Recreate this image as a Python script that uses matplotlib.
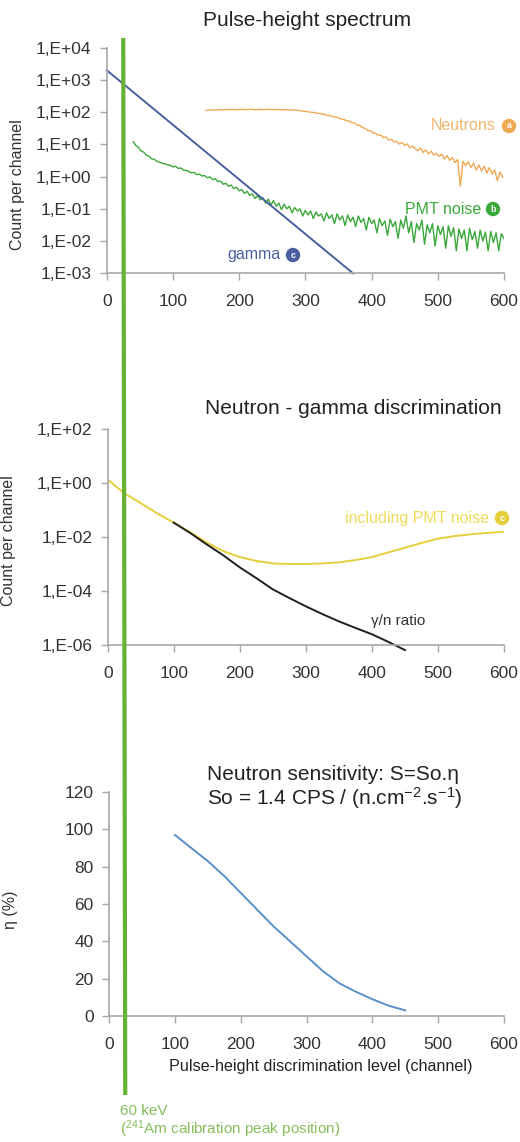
import numpy as np
import matplotlib
matplotlib.use("Agg")
import matplotlib.pyplot as plt
from matplotlib.lines import Line2D
from matplotlib.transforms import blended_transform_factory
from matplotlib.ticker import FixedLocator, FixedFormatter

plt.rcParams['font.family'] = ['Liberation Sans', 'DejaVu Sans']
plt.rcParams['mathtext.fontset'] = 'custom'
plt.rcParams['mathtext.rm'] = 'Liberation Sans'
plt.rcParams['mathtext.it'] = 'Liberation Sans'
plt.rcParams['mathtext.bf'] = 'Liberation Sans:bold'

# ---------------- data ----------------
# Panel 1: pulse-height spectrum
gamma_ch = [0, 372]
gamma_val = [2000, 1e-3]

neutron_ch_start, neutron_ch_stop = 150, 598   # every 4 channels
neutron_val = [113, 117, 115, 119, 116, 120, 118, 117, 121, 119,
               122, 118, 121, 120, 123, 119, 121, 124, 120, 118,
               122, 121, 119, 123, 120, 121, 118, 121, 119, 117,
               120, 116, 118, 114, 116, 112,
               110, 107, 105, 101, 99, 97, 92, 91, 86, 84,
               79, 78, 72, 71, 66, 61, 60, 54, 53, 47,
               46, 40, 39, 33, 32, 27, 27, 23, 22, 19,
               19.5, 16, 17, 13.5, 14.5, 12, 12.5, 10.2, 11.5, 9.2,
               10.3, 7.8, 9.0, 7.3, 6.4, 7.8, 5.6, 6.8, 5.0, 6.2,
               4.6, 5.3, 4.2, 5.0, 3.5, 4.5, 3.2, 3.9, 2.7, 3.4,
               0.5, 3.0, 2.2, 2.9, 1.9, 2.6, 1.6, 2.3, 1.5, 2.1,
               1.3, 1.9, 1.2, 1.6, 0.75, 1.4, 0.95]

pmt_ch_start, pmt_ch_stop = 40, 600   # every 4 channels
pmt_val = [12, 9.3, 8.1, 6.3, 5.7, 4.6, 4.3, 3.6, 3.4, 3.0,
           2.8, 2.6, 2.5, 2.3, 2.25, 2.0, 2.1, 1.8, 1.85, 1.6,
           1.55, 1.45, 1.3, 1.35, 1.15, 1.2, 1.05, 1.08, 0.92, 0.98,
           0.8, 0.86, 0.7, 0.72, 0.58, 0.62, 0.5, 0.55, 0.43, 0.47,
           0.36, 0.4, 0.3, 0.35, 0.26, 0.29, 0.21, 0.26, 0.19, 0.22,
           0.15, 0.2, 0.13, 0.18, 0.12, 0.15, 0.095, 0.14, 0.1, 0.12,
           0.075, 0.11, 0.085, 0.1, 0.06, 0.09, 0.065, 0.085, 0.05, 0.08,
           0.06, 0.07, 0.042, 0.075, 0.05, 0.065, 0.035, 0.07, 0.045, 0.06,
           0.03, 0.065, 0.04, 0.055, 0.028, 0.06, 0.038, 0.05, 0.022, 0.055,
           0.035, 0.045, 0.018, 0.05, 0.03, 0.042, 0.015, 0.048, 0.028, 0.04,
           0.012, 0.045, 0.025, 0.06, 0.018, 0.04, 0.009, 0.035, 0.022, 0.045,
           0.008, 0.032, 0.018, 0.035, 0.007, 0.03, 0.016, 0.028, 0.006, 0.03,
           0.014, 0.026, 0.005, 0.024, 0.012, 0.022, 0.005, 0.025, 0.011, 0.02,
           0.006, 0.022, 0.01, 0.019, 0.005, 0.02, 0.009, 0.018, 0.005, 0.017,
           0.012]

# Panel 2: neutron-gamma discrimination
incl_ch = [0, 25, 50, 75, 100, 125, 150, 175, 200, 225, 250, 275, 300,
           325, 350, 375, 400, 425, 450, 475, 500, 525, 550, 575, 600]
incl_val = [1.33, 0.42, 0.18, 0.075, 0.034, 0.015, 0.0062, 0.003, 0.0018,
            0.0013, 0.00105, 0.001, 0.001, 0.00105, 0.00115, 0.0014, 0.0018,
            0.0027, 0.004, 0.006, 0.0087, 0.0108, 0.0126, 0.0142, 0.0155]
ratio_ch = [100, 125, 150, 175, 200, 225, 250, 275, 300, 325, 350, 375, 400, 425, 450]
ratio_val = [0.034, 0.014, 0.0053, 0.0021, 7.5e-4, 3.0e-4, 1.15e-4, 5.5e-5,
             2.7e-5, 1.4e-5, 7.5e-6, 4.3e-6, 2.5e-6, 1.3e-6, 6.5e-7]

# Panel 3: neutron sensitivity
sens_ch = [100, 125, 150, 175, 200, 225, 250, 275, 300, 325, 350, 375, 400, 425, 450]
sens_val = [97, 90, 83, 75, 66, 57, 48, 40, 32, 24, 17.5, 13, 9, 5.5, 3]

calib_channel = 25

x_ticks = [0, 100, 200, 300, 400, 500, 600]
y1_ticks = [1e-3, 1e-2, 1e-1, 1, 10, 100, 1e3, 1e4]
y1_labels = ['1,E-03', '1,E-02', '1,E-01', '1,E+00', '1,E+01', '1,E+02', '1,E+03', '1,E+04']
y2_ticks = [1e-6, 1e-4, 1e-2, 1, 100]
y2_labels = ['1,E-06', '1,E-04', '1,E-02', '1,E+00', '1,E+02']
y3_ticks = [0, 20, 40, 60, 80, 100, 120]

# ---------------- colours ----------------
C_GAMMA = '#4a5f9e'
C_NEUT = '#f0a955'
C_NEUT_T = '#f2b46c'
C_PMT = '#3aa83a'
C_YEL = '#e6cf3a'
C_YEL_T = '#efdc5a'
C_BLK = '#1f1f1f'
C_SENS = '#5a8fc8'
C_CAL = '#66b232'
C_CAL_T = '#86bf5a'
C_SPINE = '#a8a8a8'
C_TXT = '#333333'

fig = plt.figure(figsize=(5.20, 11.42), dpi=100)
W, H = 520, 1142

def add_ax(left, top, right, bottom):
    return fig.add_axes([left / W, 1 - bottom / H, (right - left) / W, (bottom - top) / H])

ax1 = add_ax(106.7, 47.7, 504, 273.3)
ax2 = add_ax(107.7, 429, 504, 645)
ax3 = add_ax(109, 792, 504, 1016)

def style(ax):
    for s in ['top', 'right']:
        ax.spines[s].set_visible(False)
    for s in ['left', 'bottom']:
        ax.spines[s].set_color(C_SPINE)
        ax.spines[s].set_linewidth(1.2)
    ax.tick_params(axis='both', colors=C_SPINE, labelcolor=C_TXT, labelsize=12.5,
                   length=5, width=1)
    ax.tick_params(axis='y', pad=6)
    ax.tick_params(axis='x', pad=10)
    ax.set_xlim(0, 600)
    ax.xaxis.set_major_locator(FixedLocator(x_ticks))
    ax.minorticks_off()
    ax.patch.set_alpha(0)

def ftext(x, y, s, **kw):
    return fig.text(x / W, 1 - y / H, s, **kw)

def circ_label(x, y, letter, color):
    ftext(x, y, letter, ha='center', va='center', fontsize=6.5,
          color='white', fontweight='bold',
          bbox=dict(boxstyle='circle,pad=0.3', fc=color, ec='none'))

# ---- panel 1 ----
nch = np.linspace(neutron_ch_start, neutron_ch_stop, len(neutron_val))
pch = np.linspace(pmt_ch_start, pmt_ch_stop, len(pmt_val))
ax1.set_yscale('log')
ax1.plot(nch, neutron_val, color=C_NEUT, lw=1.0)
ax1.plot(pch, pmt_val, color=C_PMT, lw=1.0)
ax1.plot(gamma_ch, gamma_val, color=C_GAMMA, lw=1.4, clip_on=False)
ax1.set_ylim(1e-3, 1e4)
style(ax1)
ax1.yaxis.set_major_locator(FixedLocator(y1_ticks))
ax1.yaxis.set_major_formatter(FixedFormatter(y1_labels))
ax1.yaxis.set_minor_locator(FixedLocator([]))
ftext(18, 185, 'Count per channel', rotation=90, ha='center', va='center',
      fontsize=11.5, color=C_TXT)
ftext(307, 20, 'Pulse-height spectrum', ha='center', va='center',
      fontsize=15, color='#222222')

ftext(496, 126, 'Neutrons', ha='right', va='center', fontsize=11.5, color=C_NEUT_T)
circ_label(509, 126, 'a', C_NEUT)
ftext(481, 209, 'PMT noise', ha='right', va='center', fontsize=11.5, color=C_PMT)
circ_label(493, 209, 'b', C_PMT)
ftext(280, 255, 'gamma', ha='right', va='center', fontsize=11.5, color=C_GAMMA)
circ_label(293, 255, 'c', C_GAMMA)

# ---- panel 2 ----
ax2.set_yscale('log')
ax2.plot(incl_ch, incl_val, color=C_YEL, lw=1.4)
ax2.plot(ratio_ch, ratio_val, color=C_BLK, lw=1.4, clip_on=False)
ax2.set_ylim(1e-6, 1e2)
style(ax2)
ax2.yaxis.set_major_locator(FixedLocator(y2_ticks))
ax2.yaxis.set_major_formatter(FixedFormatter(y2_labels))
ax2.yaxis.set_minor_locator(FixedLocator([]))
ftext(9, 541, 'Count per channel', rotation=90, ha='center', va='center',
      fontsize=11.5, color=C_TXT)
ftext(353, 409, 'Neutron - gamma discrimination', ha='center', va='center',
      fontsize=15, color='#222222')
ftext(489, 518, 'including PMT noise', ha='right', va='center',
      fontsize=11.5, color=C_YEL_T)
circ_label(502, 518, 'c', C_YEL)
ftext(398, 621, 'γ/n ratio', ha='center', va='center', fontsize=11, color=C_TXT)

# ---- panel 3 ----
ax3.plot(sens_ch, sens_val, color=C_SENS, lw=1.4)
ax3.set_ylim(0, 120)
style(ax3)
ax3.yaxis.set_major_locator(FixedLocator(y3_ticks))
ftext(10, 910, 'η (%)', rotation=90, ha='center', va='center', fontsize=11.5, color=C_TXT)
ftext(321, 1066, 'Pulse-height discrimination level (channel)', ha='center', va='center',
      fontsize=11.6, color='#222222')
ftext(207, 775, 'Neutron sensitivity: S=So.η', ha='left', va='center',
      fontsize=15, color='#222222')
ftext(207, 798, r'So = 1.4 CPS / (n.cm$^{\mathregular{{-}2}}$.s$^{\mathregular{{-}1}}$)',
      ha='left', va='center', fontsize=15, color='#222222')

# ---- calibration line across panels ----
trans = blended_transform_factory(ax1.transData, fig.transFigure)
fig.add_artist(Line2D([calib_channel, calib_channel + 3], [1 - 38 / H, 1 - 1095 / H],
                      transform=trans, color=C_CAL, lw=3, solid_capstyle='butt'))
ftext(120, 1111, '60 keV', ha='left', va='center', fontsize=11, color=C_CAL_T)
ftext(120, 1129, r'($^{\mathregular{241}}$Am calibration peak position)', ha='left',
      va='center', fontsize=11, color=C_CAL_T)

fig.savefig('out.png', dpi=100)
